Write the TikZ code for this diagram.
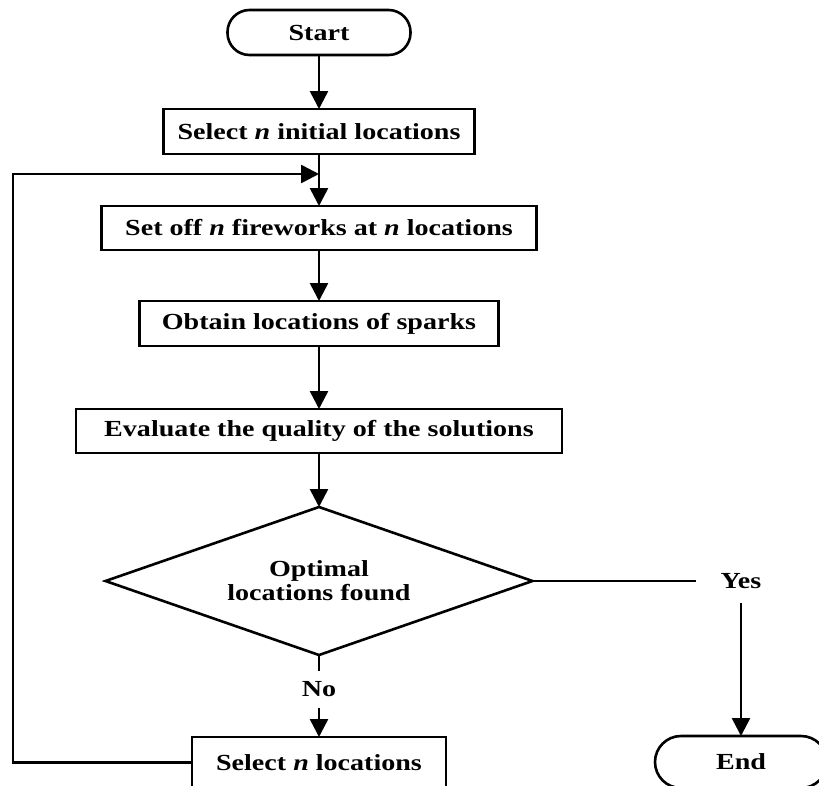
\documentclass[tikz,border=0pt]{standalone}
\usepackage{fontspec}
\setmainfont{Liberation Serif}[FakeStretch=1.22]
\usetikzlibrary{shapes.geometric,arrows.meta}
\begin{document}
\begin{tikzpicture}[x=1pt,y=-1pt,
  every node/.style={font=\fontsize{23}{25}\selectfont\bfseries, outer sep=0pt, inner sep=0pt},
  ln/.style={line width=2.6pt},
  arr/.style={ln, -{Triangle[length=18pt,width=18pt]}},
  procbox/.style={draw, line width=2.6pt, rectangle, minimum height=45pt},
  term/.style={draw, line width=2.6pt, rectangle, rounded corners=22pt, minimum height=45pt},
  decis/.style={draw, line width=2.6pt, diamond, aspect=2.885, minimum width=427pt, minimum height=148pt, align=center}]
\useasboundingbox (0,0) rectangle (819,785);
\node[term, minimum width=183pt] (start) at (319,32.5) {Start};
\node[procbox, minimum width=311pt] (sel0) at (319,131.5) {Select \textit{n} initial locations};
\node[procbox, minimum width=435pt, minimum height=44pt] (setoff) at (319,228) {Set off \textit{n} fireworks at \textit{n} locations};
\node[procbox, minimum width=359pt] (obtain) at (319,323.5) {Obtain locations of sparks};
\node[procbox, minimum width=486pt, minimum height=44pt] (eval) at (319,431) {Evaluate the quality of the solutions};
\node[decis] (dec) at (319,581) {Optimal\\[-1pt]locations found};
\node[minimum width=90pt, minimum height=44pt] (yes) at (741,581) {Yes};
\node[minimum width=60pt, minimum height=37pt] (no) at (319,689.5) {No};
\node[procbox, minimum width=254pt, minimum height=51pt] (seln) at (319,762.5) {Select \textit{n} locations};
\node[term, rounded corners=26pt, minimum width=172pt, minimum height=52pt] (end) at (741,762) {End};
\coordinate (lc) at (13,762.5);
\coordinate (lin) at (319,174);
\draw[arr] (start) -- (sel0);
\draw[arr] (sel0) -- (setoff);
\draw[arr] (setoff) -- (obtain);
\draw[arr] (obtain) -- (eval);
\draw[arr] (eval) -- (dec);
\draw[ln] (dec.east) -- (yes.west);
\draw[arr] (yes.south) -- (end.north);
\draw[ln] (dec.south) -- (no.north);
\draw[arr] (no.south) -- (seln.north);
\draw[arr, line join=miter] (seln.west) -- (lc) |- (lin);
\end{tikzpicture}
\end{document}
